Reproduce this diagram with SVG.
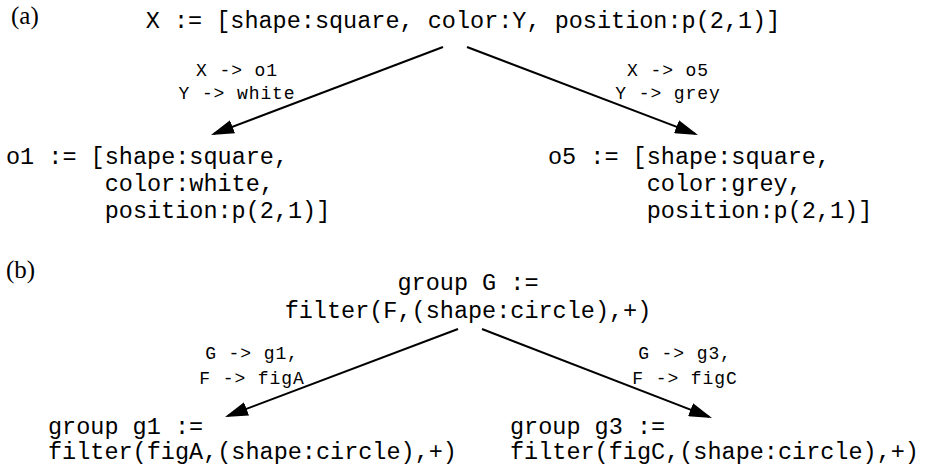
<svg xmlns="http://www.w3.org/2000/svg" width="925" height="466" viewBox="0 0 925 466">
<style>
.node{font-family:"Liberation Mono","Courier New",monospace;font-size:23.5px;fill:#000}
.lbl{font-family:"Liberation Mono","Courier New",monospace;font-size:18px;letter-spacing:0.9px;fill:#000;text-anchor:middle}
.tag{font-family:"Liberation Serif","Times New Roman",serif;font-size:25px;fill:#000}
.edge{stroke:#000;stroke-width:2;fill:none;marker-end:url(#ah)}
</style>
<defs>
<marker id="ah" markerUnits="userSpaceOnUse" markerWidth="23" markerHeight="14" refX="20" refY="7" orient="auto">
<path d="M0,0 L23,7 L0,14 z" fill="#000"/>
</marker>
</defs>
<text class="tag" x="11" y="24">(a)</text>
<text class="tag" x="6" y="278">(b)</text>
<g id="X">
<text class="node" x="463" y="28" text-anchor="middle">X := [shape:square, color:Y, position:p(2,1)]</text>
</g>
<g id="o1">
<text class="node" x="6" y="164">o1 := [shape:square,</text>
<text class="node" x="104.7" y="191">color:white,</text>
<text class="node" x="104.7" y="218">position:p(2,1)]</text>
</g>
<g id="o5">
<text class="node" x="548" y="164">o5 := [shape:square,</text>
<text class="node" x="646.7" y="191">color:grey,</text>
<text class="node" x="646.7" y="218">position:p(2,1)]</text>
</g>
<g id="G">
<text class="node" x="468" y="290" text-anchor="middle">group G :=</text>
<text class="node" x="468" y="318" text-anchor="middle">filter(F,(shape:circle),+)</text>
</g>
<g id="g1">
<text class="node" x="48" y="434">group g1 :=</text>
<text class="node" x="48" y="459">filter(figA,(shape:circle),+)</text>
</g>
<g id="g3">
<text class="node" x="510" y="434">group g3 :=</text>
<text class="node" x="510" y="459">filter(figC,(shape:circle),+)</text>
</g>
<g id="connectors">
<line class="edge" x1="443" y1="47" x2="213.8" y2="133.9"/>
<line class="edge" x1="467" y1="47" x2="695.2" y2="133.9"/>
<line class="edge" x1="458" y1="329" x2="227.8" y2="415.9"/>
<line class="edge" x1="482" y1="329" x2="709.2" y2="416.9"/>
<text class="lbl" x="237" y="76">X -&gt; o1</text>
<text class="lbl" x="237" y="99">Y -&gt; white</text>
<text class="lbl" x="668" y="76">X -&gt; o5</text>
<text class="lbl" x="668" y="99">Y -&gt; grey</text>
<text class="lbl" x="252" y="359">G -&gt; g1,</text>
<text class="lbl" x="252" y="384">F -&gt; figA</text>
<text class="lbl" x="685" y="359">G -&gt; g3,</text>
<text class="lbl" x="685" y="384">F -&gt; figC</text>
</g>
</svg>
